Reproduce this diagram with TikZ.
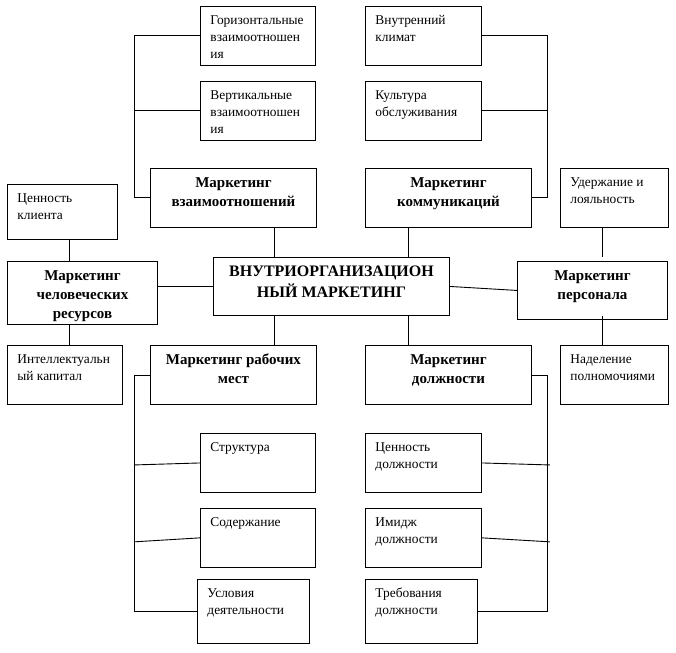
\documentclass[tikz,border=0pt]{standalone}
\usepackage{fontspec}
\setmainfont{Liberation Serif}
\usetikzlibrary{positioning}

\newcommand{\leafbox}[3]{\parbox[c][#2pt][t]{#1pt}{\raggedright\rule{0pt}{18pt}#3}}
\newcommand{\headbox}[3]{\parbox[c][#2pt][t]{#1pt}{\centering\rule{0pt}{19pt}#3}}

\begin{document}
\begin{tikzpicture}[x=1pt, y=-1pt, line width=0.9pt]
\tikzstyle{leaf}=[draw, anchor=north west, inner xsep=10pt, inner ysep=0pt, font=\fontsize{13.4}{17}\selectfont]
\tikzstyle{head}=[draw, anchor=north west, inner sep=0pt, font=\bfseries\fontsize{15}{19}\selectfont]
\useasboundingbox (0,0) rectangle (676,652);

\node[head, font=\bfseries\fontsize{16}{21}\selectfont] (cen) at (213,257) {\headbox{236}{58}{ВНУТРИОРГАНИЗАЦИОН\\НЫЙ МАРКЕТИНГ}};
\node[head] (vzaim) at (150,168) {\headbox{166}{59}{Маркетинг\\взаимоотношений}};
\node[head] (komm) at (365,168) {\headbox{166}{59}{Маркетинг\\коммуникаций}};
\node[head] (hr) at (7,261) {\headbox{150}{63}{Маркетинг\\человеческих\\ресурсов}};
\node[head] (pers) at (517,261) {\headbox{150}{58}{Маркетинг\\персонала}};
\node[head] (rabm) at (150,345) {\headbox{166}{59}{Маркетинг рабочих\\мест}};
\node[head] (dolzh) at (365,345) {\headbox{166}{59}{Маркетинг\\должности}};

\node[leaf] (gor) at (200,6) {\leafbox{95}{59}{Горизонтальные\\взаимоотношен\\ия}};
\node[leaf, below=15pt of gor] (vert) {\leafbox{95}{59}{Вертикальные\\взаимоотношен\\ия}};
\node[leaf] (vnut) at (365,6) {\leafbox{96}{59}{Внутренний\\климат}};
\node[leaf, below=15pt of vnut] (kult) {\leafbox{96}{59}{Культура\\обслуживания}};
\node[leaf] (cenk) at (7,184) {\leafbox{90}{55}{Ценность\\клиента}};
\node[leaf] (uder) at (560,168) {\leafbox{88}{59}{Удержание и\\лояльность}};
\node[leaf] (intel) at (7,345) {\leafbox{95}{59}{Интеллектуальн\\ый капитал}};
\node[leaf] (nadel) at (560,345) {\leafbox{88}{59}{Наделение\\полномочиями}};
\node[leaf] (strukt) at (200,433) {\leafbox{95}{59}{Структура}};
\node[leaf, below=15pt of strukt] (soder) {\leafbox{95}{59}{Содержание}};
\node[leaf] (uslov) at (197,579) {\leafbox{92}{64}{Условия\\деятельности}};
\node[leaf] (cend) at (365,433) {\leafbox{96}{59}{Ценность\\должности}};
\node[leaf, below=15pt of cend] (imid) {\leafbox{96}{59}{Имидж\\должности}};
\node[leaf] (treb) at (365,579) {\leafbox{92}{64}{Требования\\должности}};

% centre to the six branches
\draw ([xshift=61pt]cen.north west) -- ([xshift=124pt]vzaim.south west);
\draw ([xshift=195pt]cen.north west) -- ([xshift=43pt]komm.south west);
\draw ([xshift=61pt]cen.south west) -- ([xshift=124pt]rabm.north west);
\draw ([xshift=195pt]cen.south west) -- ([xshift=43pt]dolzh.north west);
\draw (hr.east |- cen.west) -- (cen.west);
\draw (cen.east) -- (pers.west);

% side boxes
\draw ([xshift=62pt]cenk.south west) -- ([xshift=62pt]hr.north west);
\draw ([xshift=62pt]hr.south west) -- ([xshift=62pt]intel.north west);
\draw ([xshift=42pt]uder.south west) -- ([xshift=85pt,yshift=4pt]pers.north west);
\draw ([xshift=85pt,yshift=4pt]pers.south west) -- ([xshift=42pt]nadel.north west);

% brackets
\coordinate (lb) at ([xshift=-16pt]vzaim.west);
\draw (gor.west) -| (lb) -- (vzaim.west);
\draw (vert.west) -- (vert.west -| lb);
\coordinate (rb) at ([xshift=16pt]komm.east);
\draw (vnut.east) -| (rb) -- (komm.east);
\draw (kult.east) -- (kult.east -| rb);
\coordinate (lb2) at ([xshift=-16pt]rabm.west);
\draw (rabm.west) -- (lb2) |- (uslov.west);
\draw (strukt.west) -- ([yshift=-2pt]strukt.west -| lb2);
\draw (soder.west) -- ([yshift=-4pt]soder.west -| lb2);
\coordinate (rb2) at ([xshift=16pt]dolzh.east);
\draw (dolzh.east) -- (rb2) |- (treb.east);
\draw (cend.east) -- ([xshift=2pt,yshift=-2pt]cend.east -| rb2);
\draw (imid.east) -- ([xshift=2pt,yshift=-4pt]imid.east -| rb2);

\end{tikzpicture}
\end{document}
